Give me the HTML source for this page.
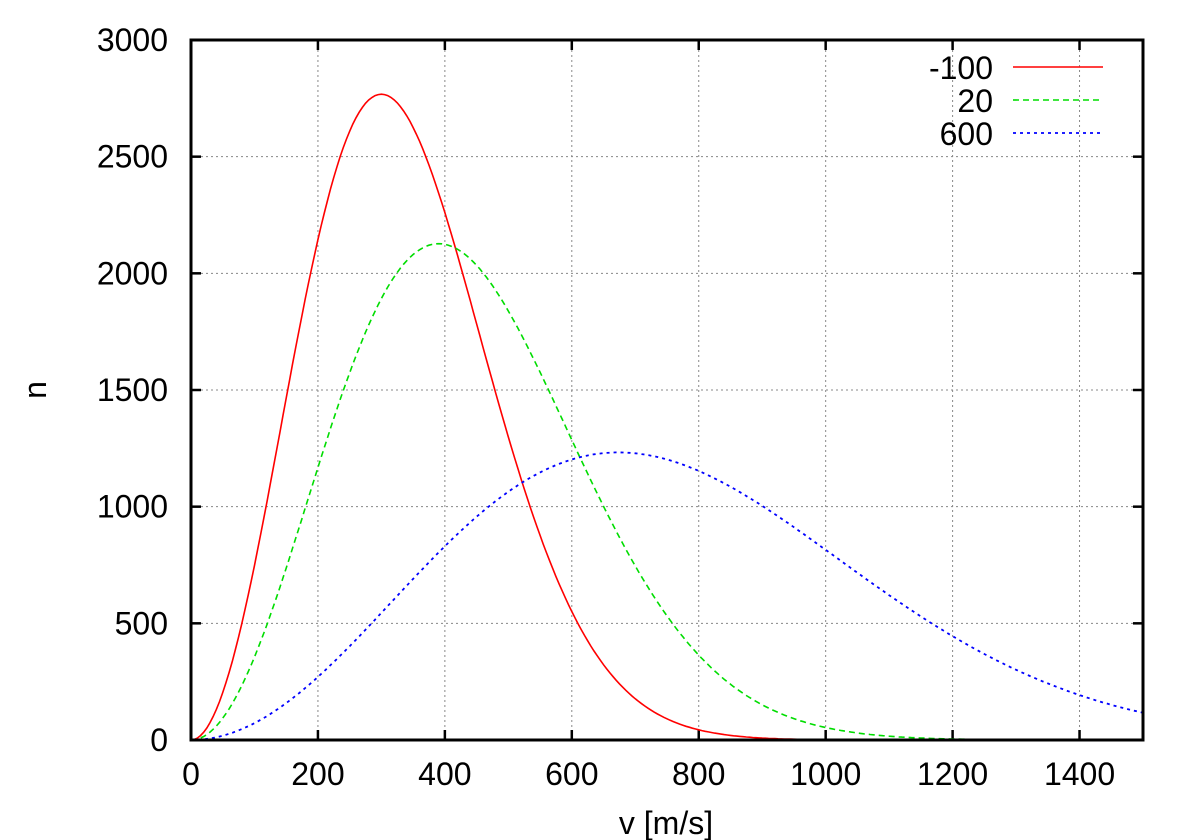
<!DOCTYPE html>
<html><head><meta charset="utf-8"><style>
html,body{margin:0;padding:0;background:#fff;}
svg{display:block;}
text{font-family:"Liberation Sans",sans-serif;font-size:32px;fill:#000;}
</style></head><body>
<svg id="s" width="1200" height="840" xmlns="http://www.w3.org/2000/svg">
<g id="grid" stroke="#888" stroke-width="1" stroke-dasharray="2,3"></g>
<g id="ticks" stroke="#000" stroke-width="2.5"></g>
<g id="labels"></g>
<g id="curves" fill="none"></g>
<rect x="191" y="40" width="952" height="700" fill="none" stroke="#000" stroke-width="3"/>
<text x="666" y="834" text-anchor="middle">v [m/s]</text>
<text transform="translate(46,390) rotate(-90)" text-anchor="middle">n</text>
<text x="993" y="79" text-anchor="end">-100</text>
<text x="993" y="112" text-anchor="end">20</text>
<text x="993" y="145" text-anchor="end">600</text>
<line x1="1013" y1="67" x2="1103" y2="67" stroke="#f00" stroke-width="1.6"/>
<line x1="1013" y1="100" x2="1103" y2="100" stroke="#0d0" stroke-width="1.6" stroke-dasharray="6,4"/>
<line x1="1013" y1="133" x2="1103" y2="133" stroke="#00f" stroke-width="1.8" stroke-dasharray="3,4"/>
</svg>
<script>
var NS="http://www.w3.org/2000/svg";
function X(v){return 191+v*952/1500;}
function Y(n){return 740-n*700/3000;}
function el(p,t,a,txt){var e=document.createElementNS(NS,t);for(var k in a)e.setAttribute(k,a[k]);if(txt!=null)e.textContent=txt;document.getElementById(p).appendChild(e);}
for(var v=0;v<=1400;v+=200){var x=X(v);
 if(v>0)el("grid","line",{x1:x,y1:40,x2:x,y2:740});
 el("ticks","line",{x1:x,y1:740,x2:x,y2:730});el("ticks","line",{x1:x,y1:40,x2:x,y2:50});
 el("labels","text",{x:x,y:785,"text-anchor":"middle"},v);}
for(var n=0;n<=3000;n+=500){var y=Y(n);
 if(n>0&&n<3000)el("grid","line",{x1:191,y1:y,x2:1143,y2:y});
 el("ticks","line",{x1:191,y1:y,x2:201,y2:y});el("ticks","line",{x1:1143,y1:y,x2:1133,y2:y});
 el("labels","text",{x:168,y:y+11,"text-anchor":"end"},n);}
var k=1.380649e-23,m=32*1.66054e-27;
function path(T){var vp=Math.sqrt(2*k*T/m),d="";
 for(var v=0;v<=1500;v+=5){var n=1e6*4/Math.sqrt(Math.PI)*v*v/(vp*vp*vp)*Math.exp(-v*v/(vp*vp));
  d+=(v?"L":"M")+X(v).toFixed(1)+","+Y(n).toFixed(1);}return d;}
el("curves","path",{d:path(173.15),stroke:"#f00","stroke-width":1.6});
el("curves","path",{d:path(293.15),stroke:"#0d0","stroke-width":1.6,"stroke-dasharray":"6,4"});
el("curves","path",{d:path(873.15),stroke:"#00f","stroke-width":1.8,"stroke-dasharray":"3,4"});
</script>
</body></html>
